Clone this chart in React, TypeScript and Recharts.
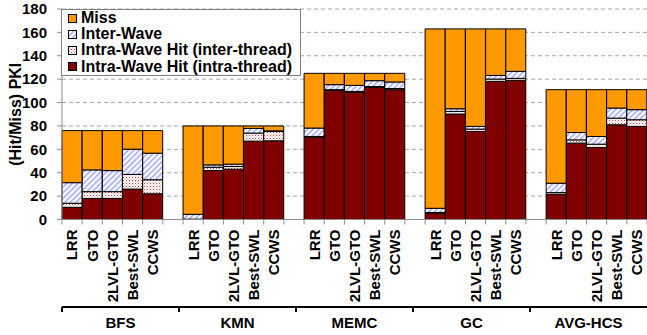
import React from "react";
import { Bar, BarChart, CartesianGrid, XAxis, YAxis } from "recharts";

const groups = ["BFS", "KMN", "MEMC", "GC", "AVG-HCS"];
const policies = ["LRR", "GTO", "2LVL-GTO", "Best-SWL", "CCWS"];

// one value per (group, policy)
const intraThread = [
  10.4, 18, 18, 26, 22, // BFS
  0.3, 41.9, 43, 67, 67.3, // KMN
  70.4, 110.4, 109, 113, 111, // MEMC
  5.3, 90.2, 75.3, 118.1, 119, // GC
  21.6, 65.3, 61.6, 81, 79.6, // AVG-HCS
];
const interThread = [
  3.5, 5.8, 5.8, 12.6, 12,
  0, 2.8, 2.3, 6.9, 8,
  0.6, 0.6, 0.5, 0.7, 1,
  0.7, 2.2, 2, 2, 1.7,
  1.4, 2.8, 2.8, 5.7, 5.7,
];
const interWave = [
  17.6, 18.6, 18, 21.5, 22.7,
  4.1, 2, 2, 4, 0.5,
  7.2, 4.3, 5.2, 5, 5.6,
  3.6, 2.3, 2.3, 3.1, 6,
  8, 6.3, 6.6, 8.6, 8.6,
];
const miss = [
  44.5, 33.6, 34.2, 15.9, 19.3,
  75.6, 33.3, 32.7, 2.1, 4.2,
  46.8, 9.7, 10.3, 6.3, 7.4,
  153.4, 68.3, 83.4, 39.8, 36.3,
  80, 36.6, 40, 15.7, 17.1,
];

const yTicks = [0, 20, 40, 60, 80, 100, 120, 140, 160, 180];

// bottom to top in the stack
const series = [
  { key: "intraThread", name: "Intra-Wave Hit (intra-thread)", fill: "#800000" },
  { key: "interThread", name: "Intra-Wave Hit (inter-thread)", fill: "url(#interThread)" },
  { key: "interWave", name: "Inter-Wave", fill: "url(#interWave)" },
  { key: "miss", name: "Miss", fill: "#ff9900" },
];

const FONT = '"Liberation Sans", Arial, sans-serif';
const PLOT_WIDTH = 585;

type Row = {
  key: string;
  policy: string;
  group: number;
  first: boolean;
  intraThread?: number;
  interThread?: number;
  interWave?: number;
  miss?: number;
};

const rows: Row[] = [];
groups.forEach((g, gi) => {
  policies.forEach((p, pi) => {
    const i = gi * policies.length + pi;
    rows.push({
      key: `${g}|${p}`,
      policy: p,
      group: gi,
      first: pi === 0,
      intraThread: intraThread[i],
      interThread: interThread[i],
      interWave: interWave[i],
      miss: miss[i],
    });
  });
  if (gi < groups.length - 1) rows.push({ key: `gap${gi}`, policy: "", group: gi, first: false });
});

const slot = PLOT_WIDTH / rows.length;
const groupWidth = PLOT_WIDTH / groups.length;
const rowByKey = new Map(rows.map((r, i) => [r.key, { ...r, idx: i }]));

function PolicyTick(props: any) {
  const { x, y, payload } = props;
  const row = rowByKey.get(payload.value);
  const label = row ? row.policy : "";
  const left = x - slot / 2;
  const tx = x + 5.4;
  const ty = y + 10;
  return (
    <g>
      <line x1={left} x2={left} y1={y} y2={y + 5} stroke="#8c8c8c" />
      {row && row.idx === rows.length - 1 && (
        <line x1={x + slot / 2} x2={x + slot / 2} y1={y} y2={y + 5} stroke="#8c8c8c" />
      )}
      {label && (
        <text
          x={tx}
          y={ty}
          transform={`rotate(-90 ${tx} ${ty})`}
          textAnchor="end"
          fontFamily={FONT}
          fontWeight="bold"
          fontSize={15}
          fill="#000"
        >
          {label}
        </text>
      )}
    </g>
  );
}

// group axis: evenly split under the plot, drawn from the first bar of each group
function GroupTick(props: any) {
  const { x, y, payload } = props;
  const row = rowByKey.get(payload.value);
  if (!row || !row.first) return <g />;
  const plotLeft = x - (row.idx + 0.5) * slot;
  const gx = plotLeft + row.group * groupWidth;
  const cx = gx + groupWidth / 2;
  return (
    <g>
      {row.group === 0 && <line x1={plotLeft} x2={plotLeft + PLOT_WIDTH} y1={y} y2={y} stroke="#000" strokeWidth={2} />}
      <line x1={gx} x2={gx} y1={y} y2={y + 5} stroke="#000" strokeWidth={2} />
      <text x={cx} y={y + 21} textAnchor="middle" fontFamily={FONT} fontWeight="bold" fontSize={15} fill="#000">
        {groups[row.group]}
      </text>
    </g>
  );
}

function YLabel(props: any) {
  const vb = props.viewBox;
  const cx = 21;
  const cy = vb.y + vb.height / 2;
  return (
    <text
      x={cx}
      y={cy}
      transform={`rotate(-90 ${cx} ${cy})`}
      textAnchor="middle"
      fontFamily={FONT}
      fontWeight="bold"
      fontSize={16}
      fill="#000"
    >
      (Hit/Miss) PKI
    </text>
  );
}

function LegendBox() {
  const items = series.slice().reverse();
  return (
    <div
      style={{
        position: "absolute",
        left: 61,
        top: 9,
        border: "1px solid #808080",
        background: "#fff",
        width: 238,
        fontFamily: FONT,
        fontWeight: "bold",
        fontSize: 16,
        color: "#000",
      }}
    >
      {items.map((it) => (
        <div key={it.key} style={{ display: "flex", alignItems: "center", height: 16.2, whiteSpace: "nowrap" }}>
          <svg width={9} height={9} style={{ marginLeft: 6, marginRight: 4, flex: "none" }}>
            <rect x={0.5} y={0.5} width={8} height={8} fill={it.fill} stroke="#000" />
          </svg>
          <span>{it.name}</span>
        </div>
      ))}
    </div>
  );
}

export default function App() {
  return (
    <div style={{ position: "absolute", left: 0, top: 0, width: 647, height: 335 }}>
      <BarChart
        width={647}
        height={335}
        data={rows}
        margin={{ top: 9, right: 0, bottom: 0, left: 0 }}
        barCategoryGap={0}
        barGap={0}
      >
        <defs>
          <pattern id="interWave" width={4} height={4} patternUnits="userSpaceOnUse" patternTransform="rotate(45)">
            <rect width={4} height={4} fill="#fff" />
            <rect width={1.6} height={4} fill="#a3a9f5" />
          </pattern>
          <pattern id="interThread" width={3} height={3} patternUnits="userSpaceOnUse">
            <rect width={3} height={3} fill="#fff" />
            <rect width={1} height={1} fill="#c8403e" />
            <rect x={1.5} y={1.5} width={1} height={1} fill="#d88080" />
          </pattern>
        </defs>
        <CartesianGrid vertical={false} stroke="#a6a6a6" strokeDasharray="4 3" />
        <XAxis
          dataKey="key"
          height={87.5}
          interval={0}
          tickLine={false}
          tickSize={0}
          tickMargin={0}
          axisLine={{ stroke: "#8c8c8c" }}
          tick={<PolicyTick />}
        />
        <XAxis
          xAxisId="grp"
          dataKey="key"
          height={28}
          interval={0}
          tickLine={false}
          tickSize={0}
          tickMargin={0}
          axisLine={false}
          tick={<GroupTick />}
        />
        <YAxis
          width={62}
          domain={[0, 180]}
          ticks={yTicks}
          interval={0}
          tickSize={5}
          tickMargin={10}
          tickLine={{ stroke: "#8c8c8c" }}
          axisLine={{ stroke: "#8c8c8c" }}
          tick={{ fontFamily: FONT, fontWeight: "bold", fontSize: 15, fill: "#000" }}
          label={<YLabel />}
        />
        {series.map((s) => (
          <Bar
            key={s.key}
            dataKey={s.key}
            name={s.name}
            stackId="a"
            fill={s.fill}
            stroke="#000"
            isAnimationActive={false}
          />
        ))}
      </BarChart>
      <LegendBox />
    </div>
  );
}
